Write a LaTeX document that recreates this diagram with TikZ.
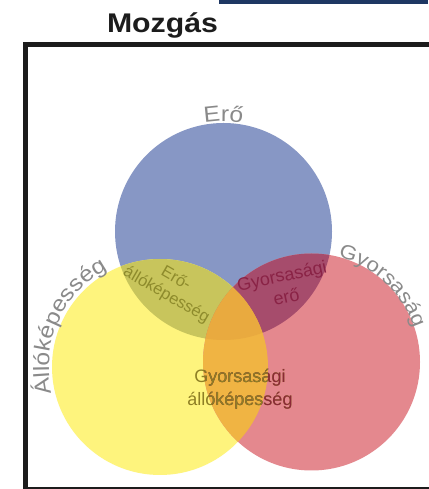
\documentclass[tikz,border=0pt]{standalone}
\usepackage{fontspec}
\setmainfont{Liberation Sans}
\newfontfamily\widefont{Liberation Sans}[FakeStretch=1.12]
\usetikzlibrary{decorations.text,calc}
\definecolor{cblue}{HTML}{8797C5}
\definecolor{cyellow}{HTML}{FEF47D}
\definecolor{cred}{HTML}{E4888E}
\definecolor{cBY}{HTML}{C8C55C}
\definecolor{cBR}{HTML}{A64C6C}
\definecolor{cYR}{HTML}{F0B443}
\definecolor{cBYR}{HTML}{E9AA3F}
\definecolor{lblgray}{HTML}{8A8A8A}
\definecolor{txtolive}{HTML}{8E8B2C}
\definecolor{txtmaroon}{HTML}{8A2346}
\definecolor{txtbrown}{HTML}{8E7F25}
\definecolor{txtred}{HTML}{8C2838}
\definecolor{navybar}{HTML}{1E3763}
\definecolor{framecol}{HTML}{1C1C1C}
\tikzset{
  circlabel/.style={decorate, decoration={text along path, text align=center, text={|\widefont\fontsize{22}{22}\selectfont\color{lblgray}|#1}}},
  circlabelsm/.style={decorate, decoration={text along path, text align=center, text={|\widefont\fontsize{20}{20}\selectfont\color{lblgray}|#1}}},
  innerlabel/.style={align=center, inner sep=0pt}
}
\begin{document}
\begin{tikzpicture}[x=1pt,y=1pt]
\useasboundingbox (0,0) rectangle (428,489);
\fill[white] (0,0) rectangle (428,489);
\coordinate (B) at (223.5,257.5);
\coordinate (Y) at (160,122);
\coordinate (R) at (311.5,127);
% circles
\fill[cblue] (B) circle[radius=108.5];
\fill[cyellow] (Y) circle[radius=108];
\fill[cred] (R) circle[radius=108.5];
\begin{scope}
  \clip (B) circle[radius=108.5];
  \fill[cBY] (Y) circle[radius=108];
  \fill[cBR] (R) circle[radius=108.5];
\end{scope}
\begin{scope}
  \clip (Y) circle[radius=108];
  \fill[cYR] (R) circle[radius=108.5];
  \clip (B) circle[radius=108.5];
  \fill[cBYR] (R) circle[radius=108.5];
\end{scope}
% frame and bar
\draw[line width=4.5, framecol] (25.5,0) rectangle (450,444.5);
\fill[navybar] (219,484.5) rectangle (428,489);
\node[font=\widefont\bfseries\fontsize{27}{27}\selectfont, text=framecol, anchor=base] (title) at (162.5,456) {Mozgás};
% curved labels
\path[circlabel=Erő] ($(B)+(125:110)$) arc[start angle=125, end angle=55, radius=110];
\path[circlabel=Állóképesség] ($(Y)+(203:111)$) arc[start angle=203, end angle=109, radius=111];
\path[circlabelsm=Gyorsaság] ($(R)+(89:108)$) arc[start angle=89, end angle=5, radius=108];
% inner labels
\node[innerlabel, font=\fontsize{16.5}{19}\selectfont, text=txtolive, rotate=-30] (ea) at (171,202) {Erő-\\állóképesség};
\node[innerlabel, font=\fontsize{18}{22}\selectfont, text=txtmaroon, rotate=12] (ge) at (284,203) {Gyorsasági\\erő};
\node[innerlabel, font=\fontsize{18}{23}\selectfont, text=txtbrown] (ga) at (240,100) {Gyorsasági\\állóképesség};
\begin{scope}
  \clip (R) circle[radius=108.5];
  \node[innerlabel, font=\fontsize{18}{23}\selectfont, text=txtred] (gb) at (240,100) {Gyorsasági\\állóképesség};
  \clip (Y) circle[radius=108];
  \node[innerlabel, font=\fontsize{18}{23}\selectfont, text=txtbrown] (gc) at (240,100) {Gyorsasági\\állóképesség};
\end{scope}
\end{tikzpicture}
\end{document}
